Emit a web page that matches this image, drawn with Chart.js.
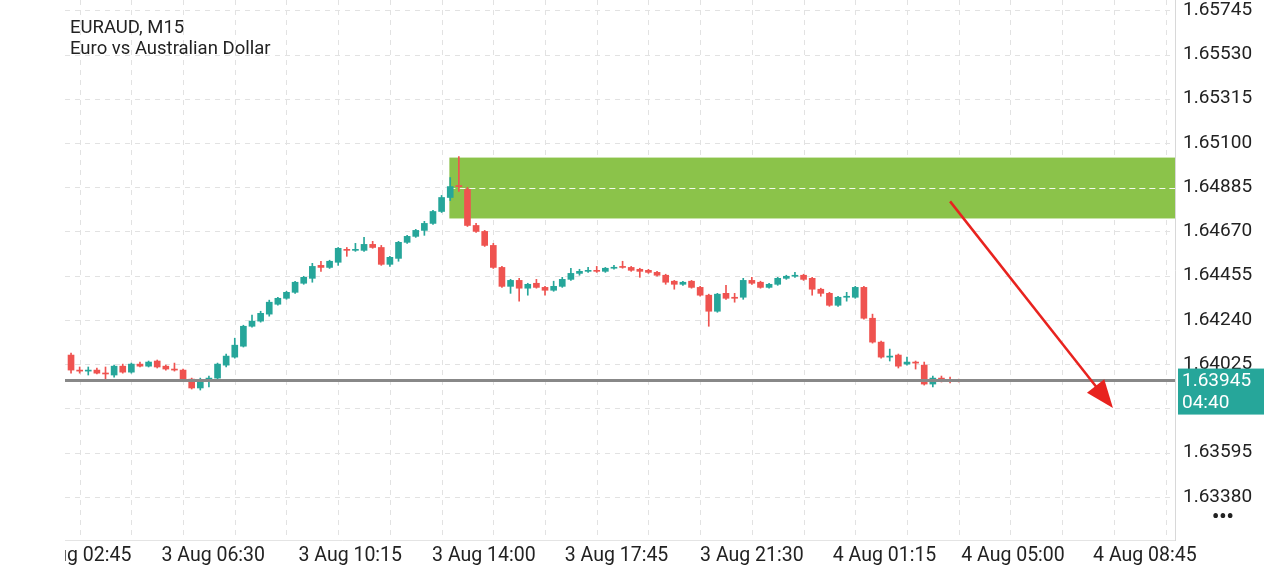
<!DOCTYPE html>
<html><head><meta charset="utf-8">
<script src="https://cdn.jsdelivr.net/npm/chart.js@4"></script>
<style>html,body{margin:0;padding:0;background:#fff}#w{width:1280px;height:571px}</style>
</head><body><div id="w"><canvas id="c"></canvas></div>
<script>
// OHLC per 15-minute candle, starting 3 Aug 02:30
const opens  = [1.64069,1.63996,1.63991,1.63996,1.63981,1.63972,1.64015,1.63986,1.64025,1.64015,1.64040,1.64015,1.64001,1.63996,1.63952,1.63909,1.63952,1.63957,1.64020,1.64059,1.64112,1.64209,1.64234,1.64268,1.64316,1.64345,1.64374,1.64418,1.64442,1.64505,1.64495,1.64520,1.64583,1.64578,1.64578,1.64607,1.64592,1.64510,1.64539,1.64617,1.64646,1.64675,1.64709,1.64767,1.64835,1.64893,1.64874,1.64699,1.64670,1.64602,1.64495,1.64403,1.64432,1.64394,1.64418,1.64398,1.64384,1.64403,1.64437,1.64466,1.64476,1.64481,1.64476,1.64491,1.64500,1.64495,1.64486,1.64481,1.64471,1.64457,1.64428,1.64413,1.64428,1.64398,1.64360,1.64282,1.64369,1.64350,1.64350,1.64432,1.64423,1.64398,1.64413,1.64442,1.64452,1.64457,1.64442,1.64389,1.64369,1.64311,1.64350,1.64350,1.64398,1.64248,1.64132,1.64059,1.64069,1.64025,1.64035,1.64020,1.63928,1.63957,1.63948,1.63948];
const highs  = [1.64079,1.64011,1.64011,1.64006,1.64011,1.64020,1.64025,1.64030,1.64035,1.64040,1.64045,1.64020,1.64030,1.64001,1.63957,1.63957,1.63967,1.64030,1.64074,1.64151,1.64214,1.64263,1.64282,1.64336,1.64350,1.64379,1.64428,1.64452,1.64515,1.64525,1.64530,1.64592,1.64592,1.64612,1.64641,1.64622,1.64602,1.64549,1.64622,1.64651,1.64680,1.64719,1.64772,1.64845,1.64932,1.65034,1.64884,1.64709,1.64675,1.64612,1.64500,1.64437,1.64442,1.64418,1.64437,1.64403,1.64428,1.64447,1.64491,1.64486,1.64495,1.64500,1.64495,1.64505,1.64525,1.64500,1.64491,1.64486,1.64476,1.64462,1.64432,1.64428,1.64432,1.64403,1.64365,1.64369,1.64408,1.64369,1.64442,1.64447,1.64428,1.64418,1.64447,1.64457,1.64471,1.64462,1.64447,1.64394,1.64374,1.64355,1.64374,1.64403,1.64403,1.64268,1.64137,1.64098,1.64074,1.64059,1.64040,1.64035,1.63967,1.63967,1.63962,1.63952];
const lows   = [1.63981,1.63981,1.63972,1.63977,1.63952,1.63962,1.63981,1.63981,1.64011,1.64011,1.64006,1.63996,1.63991,1.63948,1.63904,1.63899,1.63914,1.63952,1.64011,1.64054,1.64108,1.64204,1.64229,1.64258,1.64311,1.64340,1.64369,1.64413,1.64423,1.64476,1.64490,1.64505,1.64549,1.64573,1.64573,1.64588,1.64505,1.64500,1.64525,1.64612,1.64641,1.64651,1.64704,1.64762,1.64820,1.64864,1.64694,1.64665,1.64597,1.64490,1.64398,1.64369,1.64331,1.64360,1.64394,1.64360,1.64379,1.64398,1.64432,1.64457,1.64471,1.64471,1.64471,1.64486,1.64491,1.64476,1.64447,1.64466,1.64452,1.64413,1.64389,1.64408,1.64394,1.64355,1.64209,1.64277,1.64340,1.64326,1.64340,1.64413,1.64394,1.64394,1.64408,1.64437,1.64447,1.64432,1.64360,1.64355,1.64306,1.64306,1.64331,1.64345,1.64243,1.64127,1.64054,1.64040,1.64006,1.64020,1.64001,1.63923,1.63914,1.63938,1.63933,1.63938];
const closes = [1.63996,1.63991,1.63996,1.63981,1.63977,1.64015,1.63986,1.64025,1.64015,1.64035,1.64011,1.64001,1.63996,1.63952,1.63909,1.63948,1.63957,1.64025,1.64064,1.64117,1.64209,1.64234,1.64272,1.64326,1.64345,1.64374,1.64423,1.64447,1.64500,1.64495,1.64525,1.64588,1.64578,1.64583,1.64607,1.64592,1.64510,1.64544,1.64617,1.64646,1.64675,1.64709,1.64767,1.64835,1.64888,1.64888,1.64699,1.64670,1.64602,1.64495,1.64403,1.64432,1.64394,1.64413,1.64398,1.64384,1.64403,1.64437,1.64466,1.64476,1.64481,1.64476,1.64491,1.64495,1.64495,1.64481,1.64476,1.64471,1.64457,1.64423,1.64413,1.64423,1.64398,1.64360,1.64282,1.64365,1.64345,1.64345,1.64432,1.64418,1.64398,1.64413,1.64442,1.64452,1.64457,1.64437,1.64389,1.64369,1.64311,1.64350,1.64350,1.64398,1.64248,1.64132,1.64059,1.64064,1.64015,1.64035,1.64030,1.63928,1.63957,1.63948,1.63943,1.63945];
const priceTicks = [1.63380,1.63595,1.63810,1.64025,1.64240,1.64455,1.64670,1.64885,1.65100,1.65315,1.65530,1.65745];
const timeLabels = ["3 Aug 02:45","3 Aug 06:30","3 Aug 10:15","3 Aug 14:00","3 Aug 17:45","3 Aug 21:30","4 Aug 01:15","4 Aug 05:00","4 Aug 08:45"];
const timeLabelIdx = [1.0,16.5,32.4,47.9,63.3,79.0,94.4,109.3,124.6];
const zone = {from:43.9, top:1.65029, bottom:1.64733, mid:1.64879};
const arrow = {x0:102, p0:1.64816, x1:120.9, p1:1.63812};
const lastPrice = 1.63945, lastTime = "04:40";

const UP='#26a69a', DN='#ef5350';
const idx = closes.map((_,i)=>i);
const col = idx.map(i=>closes[i]>=opens[i]?UP:DN);
const xMin=-0.7, xMax=128.1;

const overlay = {
  id:'overlay',
  beforeDatasetsDraw(ch){
    const {ctx,chartArea:a,scales:{x,y}}=ch;
    ctx.save();
    ctx.strokeStyle='#e2e2e2';ctx.lineWidth=1;ctx.setLineDash([5,5]);
    for(let v=1;v<=xMax;v+=6){const px=Math.round(x.getPixelForValue(v))+0.5;ctx.beginPath();ctx.moveTo(px,a.top);ctx.lineTo(px,a.bottom);ctx.stroke();}
    priceTicks.forEach(v=>{const py=Math.round(y.getPixelForValue(v))+0.5;ctx.beginPath();ctx.moveTo(a.left,py);ctx.lineTo(a.right,py);ctx.stroke();});
    ctx.setLineDash([]);
    const zx=x.getPixelForValue(zone.from);
    ctx.fillStyle='#8bc34a';
    ctx.fillRect(zx,y.getPixelForValue(zone.top),a.right-zx,y.getPixelForValue(zone.bottom)-y.getPixelForValue(zone.top));
    ctx.strokeStyle='rgba(255,255,255,0.9)';ctx.lineWidth=1;ctx.setLineDash([6,4]);
    const my=Math.round(y.getPixelForValue(zone.mid))+0.5;
    ctx.beginPath();ctx.moveTo(zx,my);ctx.lineTo(a.right,my);ctx.stroke();
    ctx.restore();
  },
  afterDatasetsDraw(ch){
    const {ctx,chartArea:a,scales:{x,y}}=ch;
    ctx.save();
    const ly=y.getPixelForValue(lastPrice);
    ctx.strokeStyle='#888';ctx.lineWidth=3;
    ctx.beginPath();ctx.moveTo(a.left,ly);ctx.lineTo(a.right,ly);ctx.stroke();
    const ax0=x.getPixelForValue(arrow.x0), ay0=y.getPixelForValue(arrow.p0);
    const ax1=x.getPixelForValue(arrow.x1), ay1=y.getPixelForValue(arrow.p1);
    ctx.strokeStyle='#e8231f';ctx.fillStyle='#e8231f';ctx.lineWidth=2.5;
    const ang=Math.atan2(ay1-ay0,ax1-ax0);
    ctx.beginPath();ctx.moveTo(ax0,ay0);ctx.lineTo(ax1-14*Math.cos(ang),ay1-14*Math.sin(ang));ctx.stroke();
    ctx.beginPath();ctx.moveTo(ax1,ay1);
    ctx.lineTo(ax1-28*Math.cos(ang)+11*Math.sin(ang),ay1-28*Math.sin(ang)-11*Math.cos(ang));
    ctx.lineTo(ax1-28*Math.cos(ang)-11*Math.sin(ang),ay1-28*Math.sin(ang)+11*Math.cos(ang));
    ctx.closePath();ctx.fill();
    ctx.fillStyle='#222';ctx.font='19px Roboto';ctx.textBaseline='middle';ctx.textAlign='left';
    priceTicks.forEach(v=>ctx.fillText(v.toFixed(5),a.right+8,y.getPixelForValue(v)));
    ctx.fillStyle=UP;ctx.fillRect(a.right+3,ly-12,86,46);
    ctx.fillStyle='#fff';
    ctx.fillText(lastPrice.toFixed(5),a.right+7,ly+1);
    ctx.fillText(lastTime,a.right+7,ly+23);
    ctx.beginPath();ctx.rect(a.left,a.bottom,ch.width-a.left,40);ctx.clip();
    ctx.fillStyle='#222';ctx.textAlign='center';ctx.font='19.5px Roboto';
    timeLabelIdx.forEach((v,i)=>ctx.fillText(timeLabels[i],x.getPixelForValue(v),a.bottom+16));
    ctx.restore();
    ctx.save();
    ctx.fillStyle='#222';ctx.font='18.5px Roboto';ctx.textBaseline='alphabetic';
    ctx.fillText('EURAUD, M15',70,33);ctx.fillText('Euro vs Australian Dollar',70,54);
    ctx.font='bold 20px Roboto';ctx.fillText('•••',1212,523);
    ctx.restore();
  }
};

new Chart(document.getElementById('c'),{
  type:'bar',
  data:{datasets:[
    {data:idx.map(i=>({x:i,y:[lows[i],highs[i]]})),backgroundColor:col,barThickness:1,grouped:false,order:2},
    {data:idx.map(i=>({x:i,y:[opens[i],closes[i]]})),backgroundColor:col,barThickness:6,minBarLength:1,grouped:false,order:1}
  ]},
  options:{
    responsive:true,maintainAspectRatio:false,animation:false,
    layout:{padding:{left:65,top:0,right:0,bottom:0}},
    plugins:{legend:{display:false},tooltip:{enabled:false}},
    scales:{
      x:{type:'linear',min:xMin,max:xMax,offset:false,
        afterFit(s){s.height=31;},
        ticks:{display:false},
        grid:{display:false},border:{color:'#e4e4e4'}},
      y:{position:'right',min:1.63170,max:1.65795,
        afterFit(s){s.width=105;},
        ticks:{display:false},
        grid:{display:false},border:{color:'#d8d8d8'}}
    }
  },
  plugins:[overlay]
});
</script></body></html>
